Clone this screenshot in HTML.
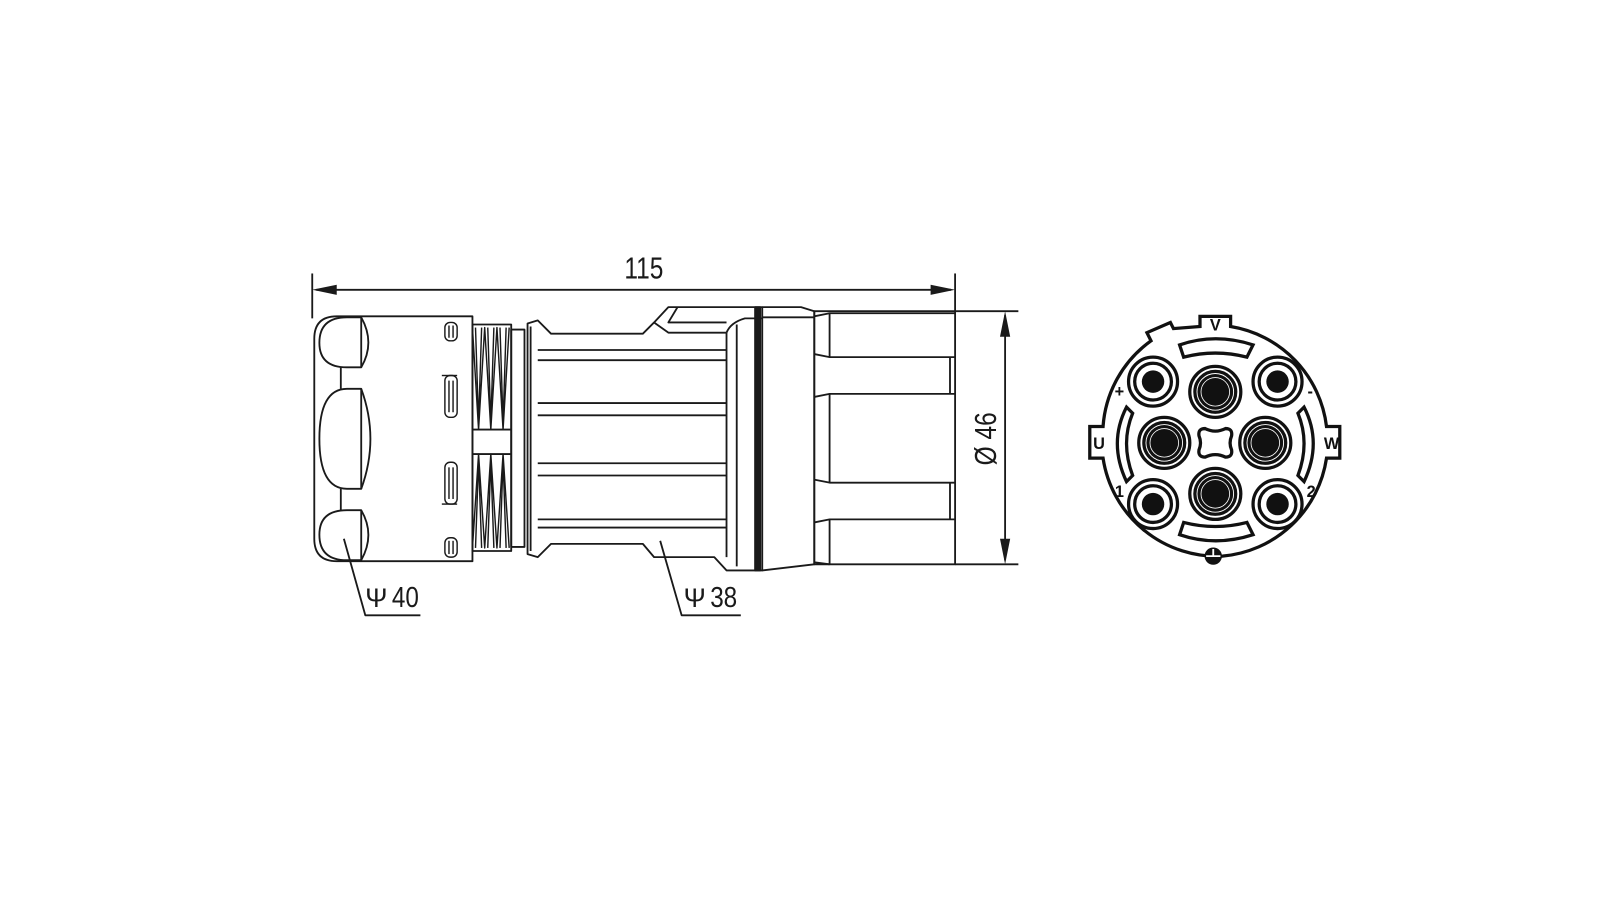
<!DOCTYPE html>
<html><head><meta charset="utf-8"><style>
html,body{margin:0;padding:0;background:#fff}
svg{display:block}
text{font-family:"Liberation Sans",sans-serif}
</style></head><body>
<svg width="1600" height="900" viewBox="0 0 1600 900" xmlns="http://www.w3.org/2000/svg">
<g transform="scale(1.0204)">
<g fill="none" stroke="#1a1a1a" stroke-width="1.8" stroke-linejoin="round">
<!-- dimension 115 -->
<line x1="306" y1="268" x2="306" y2="312"/>
<line x1="936" y1="268" x2="936" y2="305"/>
<line x1="310" y1="284" x2="932" y2="284"/>
<path d="M306 284 L330 279 L330 289 Z M936 284 L912 279 L912 289 Z" fill="#1a1a1a" stroke="none"/>
<!-- dimension 46 -->
<line x1="936" y1="305" x2="998" y2="305"/>
<line x1="936" y1="553" x2="998" y2="553"/>
<line x1="985" y1="309" x2="985" y2="549"/>
<path d="M985 305 L980 330 L990 330 Z M985 553 L980 528 L990 528 Z" fill="#1a1a1a" stroke="none"/>

<!-- cap -->
<path d="M330 310 L463 310 L463 550 L330 550 Q308 550 308 528 L308 332 Q308 310 330 310 Z"/>
<path d="M354 311 L340 311 Q313 311 313 336 Q313 360 340 360 L354 360 Q368 336 354 311 Z"/>
<path d="M354 381 L340 381 Q313 381 313 430 Q313 479 340 479 L354 479 Q372 430 354 381 Z"/>
<path d="M354 500 L340 500 Q313 500 313 524 Q313 549 340 549 L354 549 Q368 524 354 500 Z"/>
<line x1="354" y1="311" x2="354" y2="360"/><line x1="354" y1="381" x2="354" y2="479"/><line x1="354" y1="500" x2="354" y2="549"/>
<line x1="334" y1="360" x2="334" y2="381"/><line x1="334" y1="479" x2="334" y2="500"/>
<g stroke-width="1.4">
<rect x="436" y="316" width="12" height="18" rx="5"/><rect x="436" y="368" width="12" height="41" rx="5"/>
<rect x="436" y="453" width="12" height="41" rx="5"/><rect x="436" y="527" width="12" height="19" rx="5"/>
<line x1="440" y1="319" x2="440" y2="331"/><line x1="444" y1="319" x2="444" y2="331"/>
<line x1="440" y1="373" x2="440" y2="404"/><line x1="444" y1="373" x2="444" y2="404"/>
<line x1="440" y1="458" x2="440" y2="489"/><line x1="444" y1="458" x2="444" y2="489"/>
<line x1="440" y1="530" x2="440" y2="543"/><line x1="444" y1="530" x2="444" y2="543"/>
<line x1="433" y1="368" x2="448" y2="368"/><line x1="433" y1="494" x2="448" y2="494"/>
</g>
<!-- threads -->
<rect x="463" y="318" width="38" height="222"/>
<line x1="463" y1="421" x2="501" y2="421"/><line x1="463" y1="445" x2="501" y2="445"/>
<g stroke-width="1.4">
<path d="M463 321 L469 421 L475 321 L481 421 L487 321 L493 421 L499 321"/>
<path d="M466 321 L469 415 L472 321 M478 321 L481 415 L484 321 M490 321 L493 415 L496 321"/>
<path d="M463 537 L469 445 L475 537 L481 445 L487 537 L493 445 L499 537"/>
<path d="M466 537 L469 451 L472 537 M478 537 L481 451 L484 537 M490 537 L493 451 L496 537"/>
</g>
<rect x="501" y="323" width="13" height="213"/>
<!-- body -->
<path d="M517 317 L527 314 L540 327 L630 327 L641 316 L655 301 L747 301 L747 559 L712 559 L700 546 L641 546 L630 533 L540 533 L527 546 L517 543 Z"/>
<path d="M641 316 L655 326 L712 326"/>
<path d="M664 301 L655 316 L712 316"/>
<line x1="520" y1="320" x2="520" y2="540"/>
<line x1="712" y1="326" x2="712" y2="546"/><line x1="722" y1="318" x2="722" y2="555"/>
<path d="M712 326 Q716 316 730 312 L747 312"/>
<g>
<line x1="527" y1="343" x2="712" y2="343"/><line x1="527" y1="353" x2="712" y2="353"/>
<line x1="527" y1="395" x2="712" y2="395"/><line x1="527" y1="407" x2="712" y2="407"/>
<line x1="527" y1="454" x2="712" y2="454"/><line x1="527" y1="466" x2="712" y2="466"/>
<line x1="527" y1="509" x2="712" y2="509"/><line x1="527" y1="517" x2="712" y2="517"/>
</g>
<rect x="740" y="301" width="5" height="258" fill="#1a1a1a"/>
<path d="M747 301 L785 301 L798 305 L798 553 L747 559"/>
<line x1="747" y1="311" x2="798" y2="311"/>
<!-- nut -->
<path d="M798 305 L936 305 L936 553 L798 553 Z"/>
<path d="M798 310 L813 307 L936 307 M798 347 L813 350 L936 350 M813 307 L813 350"/>
<path d="M798 389 L813 386 L936 386 M798 470 L813 473 L936 473 M813 386 L813 473"/>
<path d="M798 512 L813 509 L936 509 M798 551 L813 553 M813 509 L813 553"/>
<line x1="931" y1="350" x2="931" y2="386"/><line x1="931" y1="473" x2="931" y2="509"/>
<!-- leaders -->
<path d="M337 528 L358 603 L412 603"/>
<path d="M647 530 L668 603 L726 603"/>
</g>
<g fill="#1a1a1a" font-size="30">
<text x="631" y="273" text-anchor="middle" transform="translate(631 0) scale(0.8 1) translate(-631 0)">115</text>
<text transform="translate(976 430) rotate(-90) scale(0.8 1)" text-anchor="middle">Ø 46</text>
<text x="358" y="595" font-size="26">Ψ</text>
<text x="384" y="595" font-size="28" transform="translate(384 0) scale(0.85 1) translate(-384 0)">40</text>
<text x="670" y="595" font-size="26">Ψ</text>
<text x="696" y="595" font-size="28" transform="translate(696 0) scale(0.85 1) translate(-696 0)">38</text>
</g>

<!-- front view -->
<g fill="none" stroke="#111" stroke-width="3.2">
<path d="M1176 320 L1176 310 L1206 310 L1206 320 A113 113 0 0 1 1300 418 L1313 418 L1313 449 L1300 449 A113 113 0 0 1 1198 545 A113 113 0 0 1 1081 449 L1068 449 L1068 418 L1081 418 A113 113 0 0 1 1128 334 L1124 326 L1147 316 L1150 322 Z"/>
<path d="M1156 338 Q1191 326 1228 338 L1222 350 Q1191 342 1160 350 Z"/>
<path d="M1156 524 Q1191 536 1228 524 L1222 512 Q1191 520 1160 512 Z"/>
<path d="M1104 399 Q1086 434 1104 472 L1110 466 Q1098 434 1110 405 Z"/>
<path d="M1278 399 Q1296 434 1278 472 L1272 466 Q1284 434 1272 405 Z"/>
<path d="M1181 420 Q1191 425 1201 420 Q1208 420 1207 427 Q1204 434 1207 441 Q1208 448 1201 448 Q1191 443 1181 448 Q1174 448 1175 441 Q1178 434 1175 427 Q1174 420 1181 420 Z"/>
<circle cx="1191" cy="384" r="25"/><circle cx="1191" cy="384" r="20"/>
<circle cx="1141" cy="434" r="25"/><circle cx="1141" cy="434" r="20"/>
<circle cx="1240" cy="434" r="25"/><circle cx="1240" cy="434" r="20"/>
<circle cx="1191" cy="484" r="25"/><circle cx="1191" cy="484" r="20"/>
<circle cx="1130" cy="374" r="24"/><circle cx="1130" cy="374" r="18"/>
<circle cx="1252" cy="374" r="24"/><circle cx="1252" cy="374" r="18"/>
<circle cx="1130" cy="494" r="24"/><circle cx="1130" cy="494" r="18"/>
<circle cx="1252" cy="494" r="24"/><circle cx="1252" cy="494" r="18"/>
</g>
<g fill="#111">
<circle cx="1191" cy="384" r="17.5"/><circle cx="1141" cy="434" r="17.5"/><circle cx="1240" cy="434" r="17.5"/><circle cx="1191" cy="484" r="17.5"/>
<circle cx="1130" cy="374" r="11"/><circle cx="1252" cy="374" r="11"/><circle cx="1130" cy="494" r="11"/><circle cx="1252" cy="494" r="11"/>
<circle cx="1189" cy="545" r="8.5"/>
</g>
<g fill="none" stroke="#fff" stroke-width="0.8">
<circle cx="1191" cy="384" r="14"/><circle cx="1141" cy="434" r="14"/><circle cx="1240" cy="434" r="14"/><circle cx="1191" cy="484" r="14"/>
</g>
<path d="M1182 545 L1196 545 M1189 545 L1189 538" stroke="#fff" stroke-width="1.8"/>
<g fill="#111" font-size="16" font-weight="bold" text-anchor="middle">
<text x="1191" y="324">V</text>
<text x="1077" y="440">U</text>
<text x="1305" y="440">W</text>
<text x="1097" y="389">+</text>
<text x="1284" y="389">-</text>
<text x="1097" y="487">1</text>
<text x="1285" y="487">2</text>
</g>
</g>
</svg>
</body></html>
